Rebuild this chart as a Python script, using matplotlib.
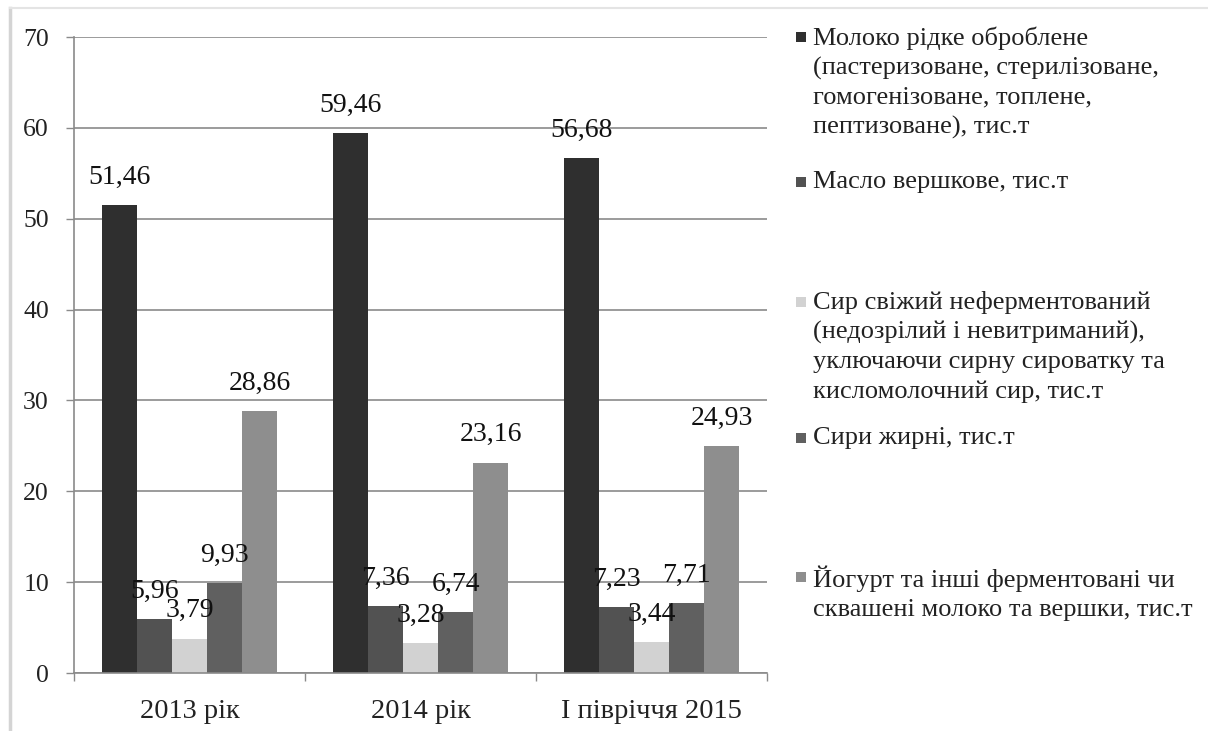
import matplotlib
matplotlib.use("Agg")
import matplotlib.pyplot as plt
from matplotlib.lines import Line2D
from matplotlib.patches import Rectangle
import numpy as np

plt.rcParams['font.family'] = ['Liberation Serif', 'DejaVu Serif']

categories = ["2013 рік", "2014 рік", "І півріччя 2015"]
series_names = [
    "Молоко рідке оброблене\n(пастеризоване, стерилізоване,\nгомогенізоване, топлене,\nпептизоване), тис.т",
    "Масло вершкове, тис.т",
    "Сир свіжий неферментований\n(недозрілий і невитриманий),\nуключаючи сирну сироватку та\nкисломолочний сир, тис.т",
    "Сири жирні, тис.т",
    "Йогурт та інші ферментовані чи\nсквашені молоко та вершки, тис.т",
]
milk = [51.46, 59.46, 56.68]
butter = [5.96, 7.36, 7.23]
fresh_cheese = [3.79, 3.28, 3.44]
fat_cheese = [9.93, 6.74, 7.71]
yogurt = [28.86, 23.16, 24.93]
series_values = [milk, butter, fresh_cheese, fat_cheese, yogurt]
labels = [
    ["51,46", "59,46", "56,68"],
    ["5,96", "7,36", "7,23"],
    ["3,79", "3,28", "3,44"],
    ["9,93", "6,74", "7,71"],
    ["28,86", "23,16", "24,93"],
]
colors = ["#2f2f2f", "#525252", "#d2d2d2", "#606060", "#8e8e8e"]

W, H = 1208, 731
fig = plt.figure(figsize=(W / 100, H / 100), dpi=100)
fig.patch.set_facecolor("white")

ax_l, ax_r, ax_t, ax_b = 74, 767, 37, 673
ax = fig.add_axes([ax_l / W, 1 - ax_b / H, (ax_r - ax_l) / W, (ax_b - ax_t) / H])

x = np.arange(len(categories))
w = 0.152
for i, (vals, col, labs) in enumerate(zip(series_values, colors, labels)):
    pos = x + (i - 2) * w
    bars = ax.bar(pos, vals, width=w, color=col, zorder=2)
    for b, lab in zip(bars, labs):
        ax.annotate(lab, (b.get_x() + b.get_width() / 2, b.get_height()),
                    xytext=(0, 20), textcoords="offset points",
                    ha="center", va="center", fontsize=20, color="#111111", zorder=3)

ax.set_xlim(-0.5, 2.5)
ax.set_ylim(0, 70)
ax.set_yticks(range(0, 71, 10))
ax.yaxis.grid(True, color="#8a8a8a", linewidth=1.2, zorder=0)
ax.set_axisbelow(True)
ax.tick_params(axis="y", length=6, width=1, color="#8a8a8a", labelsize=18.5, pad=12, labelcolor="#222222")
ax.set_xticks(x)
ax.set_xticklabels(categories, fontsize=20.5, color="#222222")
ax.tick_params(axis="x", length=0, pad=19)
ax.set_xticks([-0.5, 0.5, 1.5, 2.5], minor=True)
ax.tick_params(axis="x", which="minor", length=6, width=1, color="#8a8a8a")
for s in ["top", "right"]:
    ax.spines[s].set_visible(False)
for s in ["left", "bottom"]:
    ax.spines[s].set_color("#8a8a8a")
    ax.spines[s].set_linewidth(1.2)

# legend (manual placement)
leg_y = [37, 182, 302, 438, 577]
for name, col, y in zip(series_names, colors, leg_y):
    fig.patches.append(Rectangle((796 / W, 1 - (y + 5) / H), 10 / W, 10 / H,
                                 transform=fig.transFigure, facecolor=col, edgecolor="none"))
    fig.text(813 / W, 1 - (y - 11) / H, name, ha="left", va="top",
             fontsize=19, color="#222222", linespacing=1.41)

# outer light frame
fig.add_artist(Line2D([10 / W, 10 / W], [0, 1 - 8 / H], transform=fig.transFigure,
                      color="#d4d4d4", linewidth=2.5))
fig.add_artist(Line2D([10 / W, 1], [1 - 8 / H, 1 - 8 / H], transform=fig.transFigure,
                      color="#e4e4e4", linewidth=1.5))

fig.savefig("out.png", dpi=100, facecolor="white")
